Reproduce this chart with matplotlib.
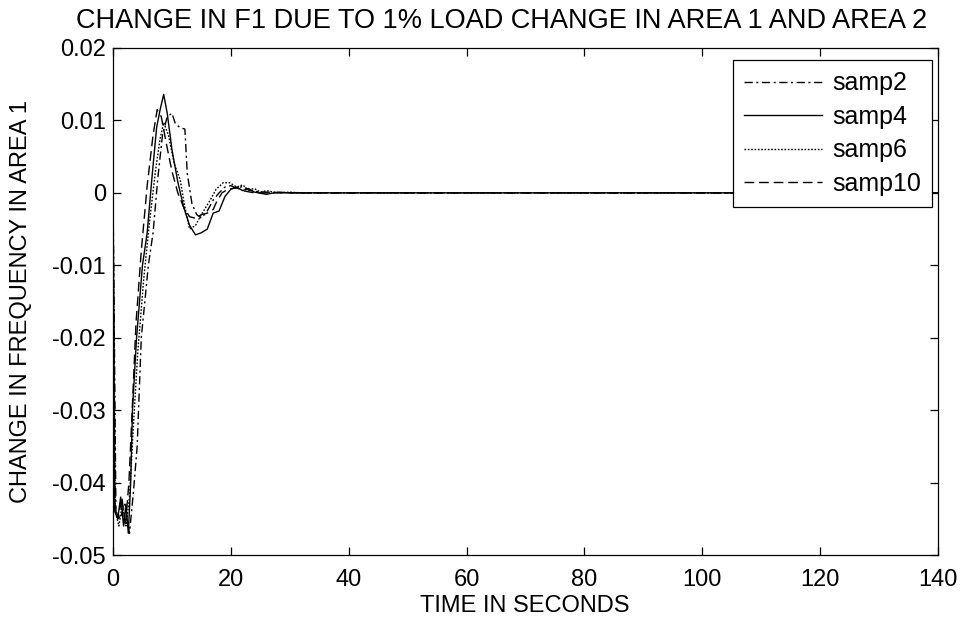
import matplotlib
matplotlib.use("Agg")
import matplotlib.pyplot as plt

plt.rcParams['font.family'] = ['Liberation Sans', 'DejaVu Sans']

# frequency deviation in area 1 for each sampling case
t_samp2 = [0, 0.5, 1.2, 2.0, 2.8, 3.5, 4.1, 4.8, 6.0, 6.8, 7.6, 8.4, 9.2, 10.0, 10.6,
           11.4, 12.2, 12.6, 13.4, 14.2, 15, 16, 17, 18, 19, 20, 21, 22, 23, 24, 26, 30, 140]
f_samp2 = [0, -0.044, -0.045, -0.043, -0.047, -0.041, -0.035, -0.020, -0.010, -0.0055,
           0.002, 0.008, 0.0105, 0.011, 0.0095, 0.009, 0.0088, 0.0027, -0.0015, -0.003,
           -0.0035, -0.0025, -0.001, 0.0, 0.0008, 0.001, 0.0006, 0.0009, 0.0004, 0.0002,
           0.0001, 0, 0]

t_samp4 = [0, 0.3, 0.8, 1.3, 1.8, 2.2, 2.6, 3.0, 3.3, 4.0, 5.0, 5.8, 6.6, 7.4, 8.0, 8.6,
           9.2, 10.0, 11.0, 12.0, 13.0, 14.0, 15.0, 16.0, 17.0, 18.0, 19.0, 20.0, 21.0,
           22.0, 23.0, 24, 26, 28, 30, 140]
f_samp4 = [0, -0.044, -0.045, -0.042, -0.046, -0.043, -0.047, -0.040, -0.030, -0.020,
           -0.010, -0.0055, 0.002, 0.009, 0.0115, 0.0136, 0.011, 0.006, 0.0015, -0.002,
           -0.0045, -0.0058, -0.0055, -0.005, -0.0028, -0.0025, -0.0005, 0.0005, 0.0008,
           0.0003, 0.0006, 0.0001, -0.0002, 0.0001, 0, 0]

t_samp6 = [0, 0.4, 1, 1.6, 2.2, 2.8, 3.4, 4.2, 5.2, 6.2, 7.2, 8.0, 8.6, 9.4, 10.4, 11.4,
           12.2, 13.0, 14, 15, 16.5, 17.5, 18.7, 19.8, 21, 22, 23, 24, 25, 26, 28, 30, 32, 140]
f_samp6 = [0, -0.044, -0.046, -0.043, -0.046, -0.042, -0.033, -0.022, -0.012, -0.004,
           0.003, 0.0075, 0.0097, 0.008, 0.004, 0.0018, -0.002, -0.005, -0.0045, -0.003,
           -0.001, 0.0005, 0.0014, 0.0014, 0.0008, 0.0011, 0.0004, 0.0006, 0.0001, 0.0003,
           0.0, 0.0001, 0, 0]

t_samp10 = [0, 0.3, 0.9, 1.5, 2.1, 2.7, 3.2, 3.9, 4.8, 5.8, 6.8, 7.5, 8.2, 9.0, 10.0,
            11.0, 12.0, 13.0, 14.0, 15.0, 16.0, 17, 17.6, 18.5, 19.5, 21, 22, 24, 140]
f_samp10 = [0, -0.043, -0.045, -0.042, -0.046, -0.040, -0.031, -0.018, -0.008, 0.001,
            0.008, 0.0115, 0.0105, 0.007, 0.003, 0.0, -0.002, -0.0033, -0.0035, -0.003,
            -0.0028, -0.0023, -0.0012, 0.0, 0.0005, 0.0007, 0.0003, 0.0, 0]

x_ticks = [0, 20, 40, 60, 80, 100, 120, 140]
y_ticks = [-0.05, -0.04, -0.03, -0.02, -0.01, 0, 0.01, 0.02]
y_tick_labels = ['-0.05', '-0.04', '-0.03', '-0.02', '-0.01', '0', '0.01', '0.02']

W, H = 968, 620
fig = plt.figure(figsize=(W / 100, H / 100), dpi=100)
ax = fig.add_axes([113 / W, 1 - 555 / H, (938 - 113) / W, (555 - 48) / H])

lw = 1.0
ax.plot(t_samp2, f_samp2, color='black', lw=lw, linestyle=(0, (6, 2.5, 1.5, 2.5)), label='samp2')
ax.plot(t_samp4, f_samp4, color='black', lw=lw, linestyle='-', label='samp4')
ax.plot(t_samp6, f_samp6, color='black', lw=lw, linestyle=(0, (1.2, 1.2)), label='samp6')
ax.plot(t_samp10, f_samp10, color='black', lw=lw, linestyle=(0, (7, 3.5)), label='samp10')

ax.set_xlim(0, 140)
ax.set_ylim(-0.05, 0.02)
ax.set_xticks(x_ticks)
ax.set_yticks(y_ticks)
ax.set_yticklabels(y_tick_labels)
ax.tick_params(direction='in', top=True, right=True, length=6, width=0.9, labelsize=17)
ax.tick_params(axis='x', pad=10)
ax.tick_params(axis='y', pad=5)
for s in ax.spines.values():
    s.set_linewidth(0.9)

fig.text(502 / W, 1 - 21 / H, 'CHANGE IN F1 DUE TO 1% LOAD CHANGE IN AREA 1 AND AREA 2',
         fontsize=19.5, ha='center', va='center')
ax.set_xlabel('TIME IN SECONDS', fontsize=17)
ax.xaxis.set_label_coords((525 - 113) / 825, (555 - 595) / 507)
ax.set_ylabel('CHANGE IN FREQUENCY IN AREA 1', fontsize=17)
ax.yaxis.set_label_coords((32 - 113) / 825, 0.5)

leg = ax.legend(loc='upper right', bbox_to_anchor=(932 / W, 1 - 60 / H),
                bbox_transform=fig.transFigure, fontsize=18, handlelength=3.1,
                handletextpad=0.4, borderpad=0.45, labelspacing=0.38, fancybox=False,
                framealpha=1, edgecolor='black', borderaxespad=0)
leg.get_frame().set_linewidth(0.9)

fig.savefig('out.png', dpi=100)
